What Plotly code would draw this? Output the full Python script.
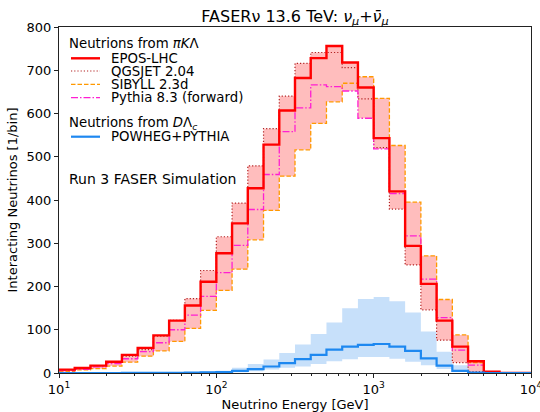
import numpy as np
import plotly.graph_objects as go

# ---------------- data ----------------
log_edges = [1.0 + k / 10 for k in range(31)]          # 10 bins per decade, 10 GeV .. 10 TeV
bin_edges = [10 ** e for e in log_edges]

epos = [7.7, 11.6, 17, 26, 42, 58, 87, 121, 156, 211,
        277, 346, 427, 528, 607, 682, 728, 756, 718, 660,
        543, 420, 294, 206, 121, 61, 27, 3, 0, 0]
qgsjet = [8, 11.5, 17, 25, 39, 54, 85, 122, 172, 237,
          315, 393, 479, 565, 640, 716, 741, 741, 706, 634,
          521, 379, 250, 146, 76, 24, 3, 0.5, 0, 0]
sibyll = [4, 7, 10, 16, 25, 39, 51, 73, 103, 145,
          191, 240, 308, 376, 455, 516, 577, 627, 670, 685,
          635, 526, 395, 271, 170, 88, 24, 1, 0, 0]
pythia = [5.4, 8.5, 14, 22, 33, 49.5, 70, 100, 134, 177,
          232, 295, 378, 459, 558, 613, 666, 662, 652, 589,
          518, 415, 317, 217, 128, 53, 18, 1, 0, 0]

charm = [0, 0, 0, 0, 0.1, 0.2, 0.3, 0.5, 0.9, 1.4,
         2, 5, 9, 15, 23, 32, 42, 54, 61, 65,
         67, 61, 51, 34, 17, 5, 1, 0, 0, 0]
charm_hi = [0, 0, 0, 0.1, 0.2, 0.4, 0.8, 1.5, 2.5, 3.5,
            5, 12, 21, 31, 46, 66, 90, 117, 150, 171,
            176, 166, 140, 96, 49, 18, 3, 0, 0, 0]
charm_lo = [0, 0, 0, 0, 0, 0, 0.1, 0.2, 0.3, 0.6,
            1, 2, 4, 8, 12, 15, 21, 27, 32, 37,
            37, 33, 26, 18, 9, 3, 0.5, 0, 0, 0]

x_tick_vals = [10, 100, 1000, 10000]
x_tick_text = ["10<sup>1</sup>", "10<sup>2</sup>", "10<sup>3</sup>", "10<sup>4</sup>"]
x_minor_vals = [m * 10 ** d for d in (1, 2, 3) for m in range(2, 10)]

light_names = ["EPOS-LHC", "QGSJET 2.04", "SIBYLL 2.3d", "Pythia 8.3 (forward)"]
charm_names = ["POWHEG+PYTHIA"]

title_text = "FASERν 13.6 TeV: <i>ν</i><sub><i>μ</i></sub>+<i>ν̄</i><sub><i>μ</i></sub>"
group1_title = "Neutrions from <i>πK</i>Λ"
group2_title = "Neutrions from <i>D</i>Λ<sub><i>c</i></sub>"
sim_label = "Run 3 FASER Simulation"

# ---------------- styles ----------------
FONT = "DejaVu Sans"
RED = "#ff0000"
BROWN = "#b22222"
ORANGE = "#ff9900"
MAGENTA = "#ff1fd2"
BLUE = "#1e88f0"
RED_FILL = "#ffbdbd"
BLUE_FILL = "#c7e0fa"

styles = [
    dict(color=RED, width=2.4, dash="solid"),
    dict(color=BROWN, width=1.2, dash="1.2px,2px"),
    dict(color=ORANGE, width=1.3, dash="4.5px,2px"),
    dict(color=MAGENTA, width=1.3, dash="7px,2px,1.5px,2px"),
]
blue_style = dict(color=BLUE, width=2.2, dash="solid")


def step_y(vals):
    return list(vals) + [vals[-1]]


fig = go.Figure()

# bands
band_lo = np.minimum.reduce([epos, qgsjet, sibyll, pythia])
band_hi = np.maximum.reduce([epos, qgsjet, sibyll, pythia])

fig.add_trace(go.Scatter(x=bin_edges, y=step_y(charm_lo), mode="lines",
                         line=dict(width=0, shape="hv"), showlegend=False, hoverinfo="skip"))
fig.add_trace(go.Scatter(x=bin_edges, y=step_y(charm_hi), mode="lines",
                         line=dict(width=0, shape="hv"), fill="tonexty", fillcolor=BLUE_FILL,
                         showlegend=False, hoverinfo="skip"))
fig.add_trace(go.Scatter(x=bin_edges, y=step_y(band_lo), mode="lines",
                         line=dict(width=0, shape="hv"), showlegend=False, hoverinfo="skip"))
fig.add_trace(go.Scatter(x=bin_edges, y=step_y(band_hi), mode="lines",
                         line=dict(width=0, shape="hv"), fill="tonexty", fillcolor=RED_FILL,
                         showlegend=False, hoverinfo="skip"))

# lines (EPOS on top)
series = [epos, qgsjet, sibyll, pythia]
for idx in [1, 2, 3, 0]:
    st = styles[idx]
    fig.add_trace(go.Scatter(x=bin_edges, y=step_y(series[idx]), mode="lines",
                             name=light_names[idx],
                             line=dict(color=st["color"], width=st["width"], dash=st["dash"], shape="hv"),
                             showlegend=False))
fig.add_trace(go.Scatter(x=bin_edges, y=step_y(charm), mode="lines", name=charm_names[0],
                         line=dict(color=blue_style["color"], width=blue_style["width"], shape="hv"),
                         showlegend=False))

# ---------------- layout ----------------
W, H = 540, 412
L, R, T, B = 59, 9, 27, 39
pw, ph = W - L - R, H - T - B


def px_x(px):
    return (px - L) / pw


def px_y(py):
    return (H - B - py) / ph


annotations = []
shapes = []
LEG_SIZE = 13.3
LEG_FONT = dict(family=FONT, size=LEG_SIZE, color="black")


def leg_text(text, px, py, font=LEG_FONT):
    return dict(text=text, x=px_x(px), y=px_y(py), xref="paper", yref="paper",
                xanchor="left", yanchor="middle", showarrow=False, font=font)


annotations.append(leg_text(group1_title, 67, 43.3))
row_y = [58.3, 71.0, 84.3, 97.7]
for name, st, ry in zip(light_names, styles, row_y):
    shapes.append(dict(type="line", xref="paper", yref="paper", x0=px_x(71), x1=px_x(100),
                       y0=px_y(ry), y1=px_y(ry),
                       line=dict(color=st["color"], width=st["width"], dash=st["dash"])))
    annotations.append(leg_text(name, 109, ry))
annotations.append(leg_text(group2_title, 67, 123.5))
shapes.append(dict(type="line", xref="paper", yref="paper", x0=px_x(71), x1=px_x(100),
                   y0=px_y(136.7), y1=px_y(136.7),
                   line=dict(color=blue_style["color"], width=blue_style["width"])))
annotations.append(leg_text(charm_names[0], 109, 136.7))
annotations.append(leg_text(sim_label, 67, 179, font=dict(family=FONT, size=14, color="black")))

fig.update_layout(
    width=W, height=H, autosize=False,
    margin=dict(l=L, r=R, t=T, b=B, pad=0),
    paper_bgcolor="white", plot_bgcolor="white",
    font=dict(family=FONT, size=13, color="black"),
    title=dict(text=title_text, x=0.5, xref="paper", xanchor="center",
               y=1 - 16 / H, yref="container", yanchor="middle",
               font=dict(family=FONT, size=16, color="black")),
    showlegend=False,
    annotations=annotations,
    shapes=shapes,
)
fig.update_xaxes(type="log", range=[1, 4], tickmode="array", tickvals=x_tick_vals, ticktext=x_tick_text,
                 ticks="outside", ticklen=4, tickwidth=1, tickcolor="#222",
                 minor=dict(tickmode="array", tickvals=x_minor_vals, ticks="outside", ticklen=2.3,
                            tickwidth=0.8, tickcolor="#222", showgrid=False),
                 showline=True, linecolor="#222", linewidth=1, mirror=True,
                 showgrid=False, zeroline=False, automargin=False, ticklabeloverflow="allow",
                 tickfont=dict(family=FONT, size=13, color="black"),
                 title=dict(text="Neutrino Energy [GeV]", standoff=4,
                            font=dict(family=FONT, size=13, color="black")))
fig.update_yaxes(range=[0, 800], dtick=100, tick0=0,
                 ticks="outside", ticklen=4, tickwidth=1, tickcolor="#222",
                 showline=True, linecolor="#222", linewidth=1, mirror=True,
                 showgrid=False, zeroline=False, automargin=False,
                 tickfont=dict(family=FONT, size=13, color="black"),
                 title=dict(text="Interacting Neutrinos [1/bin]", standoff=6,
                            font=dict(family=FONT, size=13, color="black")))

fig.write_html("out.html")
